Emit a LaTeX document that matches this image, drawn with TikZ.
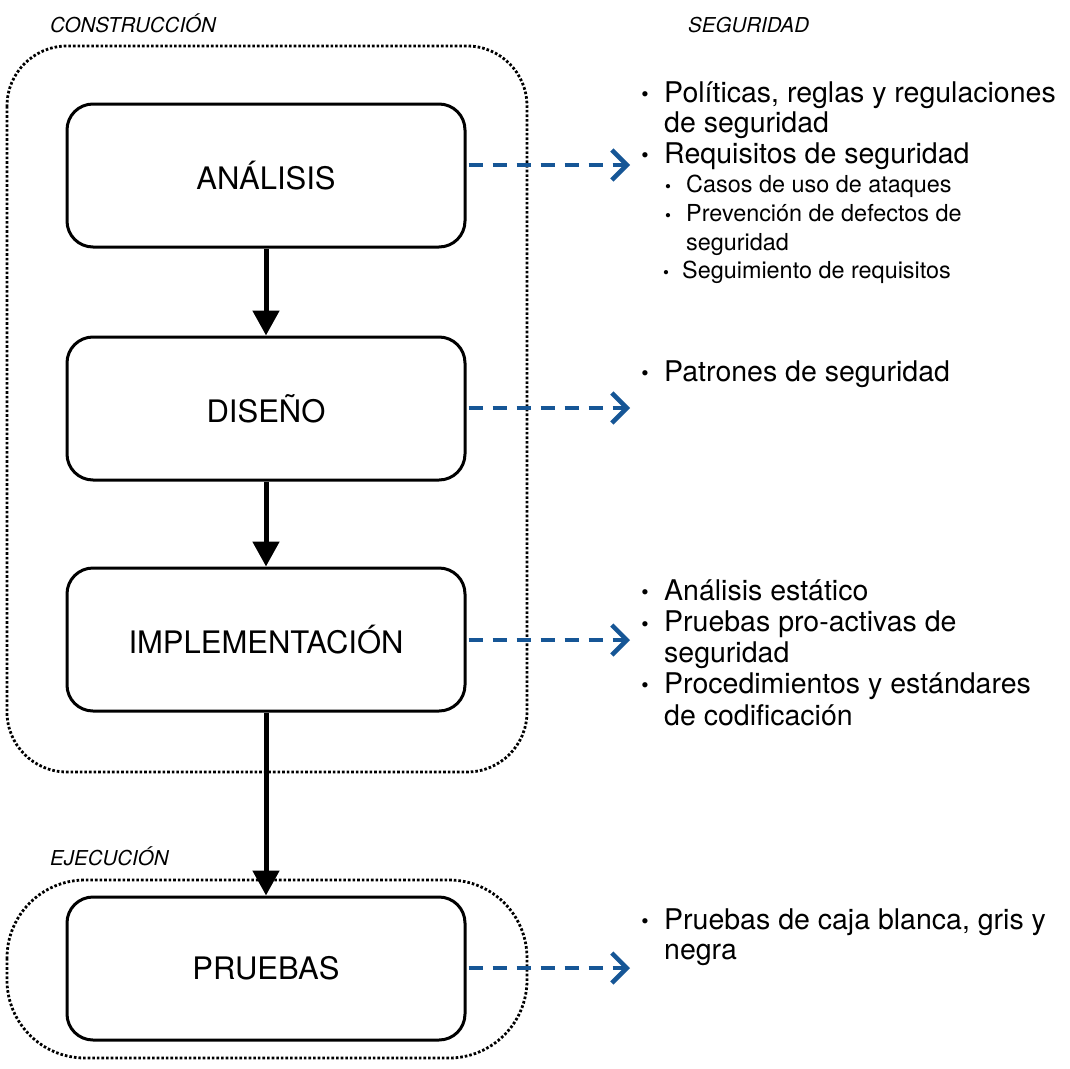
\documentclass[tikz,border=0pt]{standalone}
\usepackage{fontspec}
\setmainfont{TeX Gyre Heros}
\usetikzlibrary{arrows.meta}
\definecolor{segblue}{RGB}{22,86,150}
\begin{document}
\begin{tikzpicture}[x=1pt,y=-1pt,
  phase/.style={draw=black, line width=3pt, rounded corners=26pt, minimum width=398pt, minimum height=143pt, font=\fontsize{31}{36}\selectfont, inner sep=0pt},
  group/.style={draw=black, line width=2.8pt, dash pattern=on 2.6pt off 2pt},
  flow/.style={line width=5pt, -{Triangle[width=26pt,length=25pt]}},
  sec/.style={segblue, line width=4.5pt, dash pattern=on 14pt off 10pt, -{Straight Barb[length=15pt,width=30pt,line width=4.5pt]}},
  txt/.style={anchor=base west, inner sep=0pt, font=\fontsize{28.5}{32}\selectfont},
  subtxt/.style={anchor=base west, inner sep=0pt, font=\fontsize{23.4}{26}\selectfont},
  bul/.style={anchor=base, inner sep=0pt, font=\fontsize{21}{24}\selectfont},
  sbul/.style={anchor=base, inner sep=0pt, font=\fontsize{17}{20}\selectfont},
  grouplbl/.style={anchor=base west, inner sep=0pt, font=\fontsize{20.5}{24}\selectfont\itshape}
]
\useasboundingbox (0,0) rectangle (1070,1068);

% group frames
\draw[group, rounded corners=60pt] (7,46) rectangle (527,772);
\draw[group, rounded corners=78pt] (7,880) rectangle (527,1058);
\node[grouplbl] (lcons) at (50,32) {CONSTRUCCIÓN};
\node[grouplbl] (lejec) at (50,865) {EJECUCIÓN};
\node[grouplbl] (lseg) at (688,32) {SEGURIDAD};

% phases
\node[phase] (ana) at (266,175.5) {ANÁLISIS};
\node[phase] (dis) at (266,408.5) {DISEÑO};
\node[phase] (imp) at (266,639.5) {IMPLEMENTACIÓN};
\node[phase] (pru) at (266,968.5) {PRUEBAS};

\draw[flow] (ana.south) -- (dis.north);
\draw[flow] (dis.south) -- (imp.north);
\draw[flow] (imp.south) -- (pru.north);

% security arrows
\coordinate (ea) at (630,165);
\coordinate (ed) at (630,408);
\coordinate (ei) at (630,640);
\coordinate (ep) at (630,968);
\draw[sec] (ana.east |- ea) ++(2,0) -- (ea);
\draw[sec] (dis.east |- ed) ++(2,0) -- (ed);
\draw[sec] (imp.east |- ei) ++(2,0) -- (ei);
\draw[sec] (pru.east |- ep) ++(2,0) -- (ep);

% security texts
\node[bul] (b1) at (645,101) {•};
\node[txt] (t1) at (664,102) {Políticas, reglas y regulaciones};
\node[txt] (t1b) at (664,132) {de seguridad};
\node[bul] (b2) at (645,162) {•};
\node[txt] (t2) at (664,163) {Requisitos de seguridad};
\node[sbul] (b21) at (668,192) {•};
\node[subtxt] (t21) at (686,192.5) {Casos de uso de ataques};
\node[sbul] (b22) at (668,221) {•};
\node[subtxt] (t22) at (686,221.5) {Prevención de defectos de};
\node[subtxt] (t22b) at (686,250) {seguridad};
\node[sbul] (b23) at (666,278) {•};
\node[subtxt] (t23) at (682,278.5) {Seguimiento de requisitos};

\node[bul] (b3) at (645,380) {•};
\node[txt] (t3) at (664,381) {Patrones de seguridad};

\node[bul] (b4) at (645,599) {•};
\node[txt] (t4) at (664,600) {Análisis estático};
\node[bul] (b5) at (645,631) {•};
\node[txt] (t5) at (664,631.5) {Pruebas pro-activas de};
\node[txt] (t5b) at (664,662) {seguridad};
\node[bul] (b6) at (645,692) {•};
\node[txt] (t6) at (664,693) {Procedimientos y estándares};
\node[txt] (t6b) at (664,725) {de codificación};

\node[bul] (b7) at (645,928) {•};
\node[txt] (t7) at (664,929) {Pruebas de caja blanca, gris y};
\node[txt] (t7b) at (664,959) {negra};
\end{tikzpicture}
\end{document}
